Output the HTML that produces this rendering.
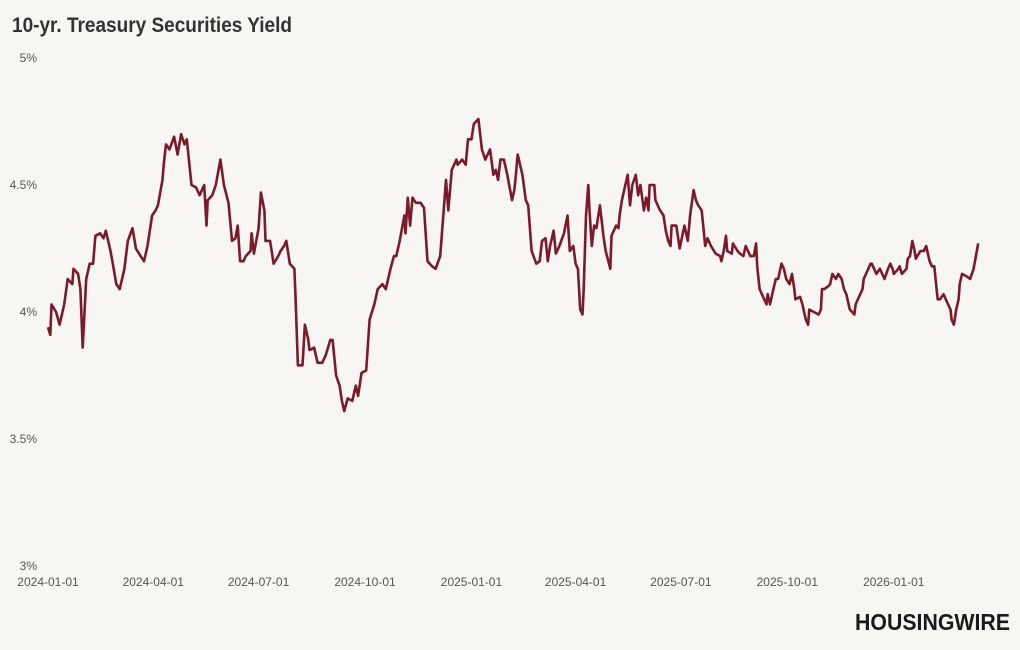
<!DOCTYPE html>
<html><head><meta charset="utf-8"><style>
html,body{margin:0;padding:0;background:#f8f6f3;}
svg{display:block;font-family:"Liberation Sans Narrow","Liberation Sans",sans-serif;}
</style></head><body>
<svg id="chart" width="1020" height="650" viewBox="0 0 1020 650">
<rect width="1020" height="650" fill="#f8f6f3"/>
<text x="12" y="32" font-size="21" font-weight="bold" fill="#333" textLength="280" lengthAdjust="spacingAndGlyphs">10-yr. Treasury Securities Yield</text>
<g id="yaxis"></g>
<g id="xaxis"></g>
<path id="line" fill="none" stroke="#7b1a2b" stroke-width="2.6" stroke-linejoin="round"/>
<text x="855" y="630" font-size="23" font-weight="bold" fill="#1a1a1a" textLength="155" lengthAdjust="spacingAndGlyphs">HOUSINGWIRE</text>
</svg>
<script>
const days=[0,2,3,7,10,14,17,21,22,26,28,30,33,36,39,41,45,48,50,54,56,59,62,66,69,73,76,80,83,86,90,93,95,99,100,102,105,109,112,115,118,120,124,128,131,135,137,138,142,145,149,152,156,159,162,164,166,169,171,175,176,178,182,184,187,188,192,195,199,201,204,206,209,213,214,216,220,222,225,226,230,233,237,240,244,246,249,252,254,256,259,263,266,268,271,275,278,282,285,289,292,296,299,301,304,308,309,311,313,315,318,322,325,328,332,335,339,341,342,344,346,349,353,354,358,361,363,366,368,372,375,378,382,385,387,389,391,394,397,401,403,404,406,410,413,415,418,422,425,427,430,432,434,437,439,442,446,449,451,454,456,458,460,462,463,465,467,468,470,472,474,477,480,482,486,487,491,493,494,496,500,501,503,505,508,510,512,515,517,519,520,524,525,529,532,534,536,538,539,543,546,550,553,555,558,560,562,565,568,570,573,577,581,582,584,586,587,591,592,596,598,601,603,607,610,612,613,615,617,619,621,622,624,627,629,631,634,636,638,641,643,645,646,650,652,655,657,658,662,666,668,669,671,674,676,678,681,683,686,688,690,693,697,698,702,704,705,707,709,711,712,714,716,719,721,723,726,728,730,731,735,736,738,742,743,745,747,749,750,754,757,759,762,764,766,768,769,771,774,776,778,780,781,783,785,787,788,790,794,797,800,802,804];
const yields=[3.94,3.91,4.03,4.00,3.95,4.03,4.13,4.11,4.17,4.15,4.09,3.86,4.13,4.19,4.19,4.30,4.31,4.29,4.32,4.24,4.19,4.11,4.09,4.17,4.28,4.33,4.25,4.22,4.20,4.26,4.38,4.40,4.42,4.52,4.58,4.66,4.64,4.69,4.62,4.70,4.66,4.68,4.50,4.49,4.46,4.50,4.34,4.44,4.46,4.50,4.60,4.50,4.43,4.28,4.29,4.34,4.20,4.20,4.22,4.24,4.31,4.23,4.33,4.47,4.40,4.28,4.28,4.19,4.22,4.24,4.26,4.28,4.19,4.17,4.05,3.79,3.79,3.95,3.89,3.85,3.86,3.80,3.80,3.83,3.89,3.89,3.75,3.71,3.65,3.61,3.66,3.65,3.71,3.67,3.76,3.77,3.97,4.03,4.09,4.11,4.09,4.17,4.22,4.22,4.28,4.38,4.31,4.45,4.34,4.45,4.43,4.43,4.41,4.20,4.18,4.17,4.22,4.34,4.40,4.52,4.40,4.56,4.60,4.58,4.60,4.58,4.68,4.68,4.74,4.76,4.64,4.60,4.64,4.54,4.56,4.52,4.60,4.60,4.54,4.44,4.48,4.52,4.62,4.54,4.44,4.42,4.24,4.19,4.20,4.28,4.29,4.20,4.26,4.32,4.23,4.26,4.31,4.38,4.24,4.26,4.19,4.17,4.01,3.99,4.09,4.38,4.50,4.40,4.26,4.34,4.33,4.42,4.30,4.24,4.17,4.30,4.34,4.33,4.38,4.44,4.52,4.54,4.42,4.50,4.54,4.46,4.50,4.40,4.45,4.40,4.50,4.50,4.44,4.40,4.38,4.32,4.28,4.26,4.34,4.34,4.25,4.34,4.28,4.38,4.48,4.44,4.42,4.40,4.26,4.29,4.26,4.23,4.22,4.20,4.24,4.30,4.24,4.23,4.27,4.24,4.23,4.22,4.26,4.22,4.22,4.27,4.18,4.09,4.07,4.05,4.03,4.07,4.03,4.09,4.13,4.13,4.19,4.17,4.13,4.11,4.15,4.09,4.05,4.06,4.03,3.97,3.95,4.01,4.00,3.99,4.01,4.09,4.09,4.10,4.11,4.15,4.13,4.15,4.13,4.09,4.07,4.01,3.99,4.03,4.07,4.09,4.13,4.15,4.17,4.19,4.19,4.17,4.15,4.17,4.15,4.13,4.17,4.19,4.17,4.15,4.17,4.18,4.15,4.17,4.21,4.22,4.28,4.24,4.21,4.24,4.24,4.26,4.20,4.18,4.18,4.09,4.05,4.05,4.07,4.05,4.03,4.01,3.97,3.95,4.01,4.05,4.11,4.15,4.14,4.13,4.17,4.22,4.27];
const yTicks=[3,3.5,4,4.5,5];
const yTickLabels=["3%","3.5%","4%","4.5%","5%"];
const xTickDays=[0,91,182,274,366,456,547,639,731];
const xTickLabels=["2024-01-01","2024-04-01","2024-07-01","2024-10-01","2025-01-01","2025-04-01","2025-07-01","2025-10-01","2026-01-01"];

const NS="http://www.w3.org/2000/svg";
function xScale(d){return 48+d*1.157;}
function yScale(v){return 566-(v-3)*254;}
const ya=document.getElementById('yaxis');
yTicks.forEach((t,i)=>{
  const tx=document.createElementNS(NS,'text');
  tx.setAttribute('x',37);tx.setAttribute('y',yScale(t)+4);
  tx.setAttribute('text-anchor','end');tx.setAttribute('font-size','12');tx.setAttribute('fill','#555');
  tx.textContent=yTickLabels[i];
  
  
  ya.appendChild(tx);
});
const xa=document.getElementById('xaxis');
xTickDays.forEach((d,i)=>{
  const tx=document.createElementNS(NS,'text');
  tx.setAttribute('x',xScale(d));tx.setAttribute('y',586);
  tx.setAttribute('text-anchor','middle');tx.setAttribute('font-size','12');tx.setAttribute('fill','#555');
  tx.textContent=xTickLabels[i];
  
  
  xa.appendChild(tx);
});
let dstr='';
days.forEach((d,i)=>{dstr+=(i?'L':'M')+xScale(d).toFixed(1)+','+yScale(yields[i]).toFixed(1);});
document.getElementById('line').setAttribute('d',dstr);
</script>
</body></html>
